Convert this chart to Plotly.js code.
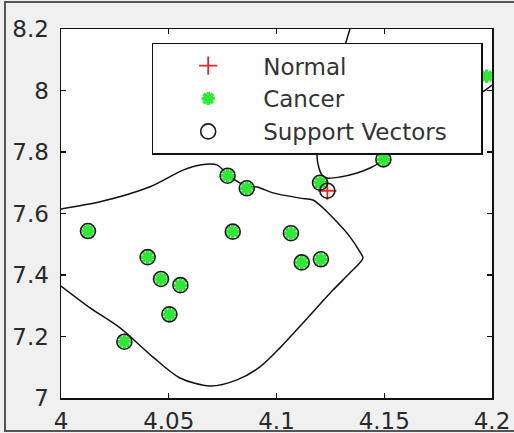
<!DOCTYPE html>
<html>
<head>
<meta charset="utf-8">
<script src="https://cdn.plot.ly/plotly-3.0.1.min.js"></script>
<style>
html,body{margin:0;padding:0;overflow:hidden;background:#f0f0f0;}
#chart{position:absolute;left:0;top:0;width:514px;height:433px;}
#frame{position:absolute;left:4px;top:1px;width:530px;height:427px;border:2px solid #555;pointer-events:none;}
</style>
</head>
<body>
<div id="chart"></div>
<div id="frame"></div>
<script>
// Cancer samples (green)
var cancerX = [4.0125, 4.0402, 4.0464, 4.0554, 4.0503, 4.0294, 4.0797, 4.1067, 4.1117, 4.1206, 4.0773, 4.0862, 4.1202, 4.1496, 4.1975];
var cancerY = [7.543, 7.458, 7.387, 7.367, 7.272, 7.183, 7.541, 7.536, 7.441, 7.451, 7.723, 7.682, 7.700, 7.776, 8.047];
// Normal samples (red)
var normalX = [4.1236];
var normalY = [7.674];
// Support vectors (circled)
var svX = [4.0125, 4.0402, 4.0464, 4.0554, 4.0503, 4.0294, 4.0797, 4.1067, 4.1117, 4.1206, 4.0773, 4.0862, 4.1202, 4.1496, 4.1236];
var svY = [7.543, 7.458, 7.387, 7.367, 7.272, 7.183, 7.541, 7.536, 7.441, 7.451, 7.723, 7.682, 7.700, 7.776, 7.674];
// Decision boundary: closed region on the left
var boundary1X = [4.0, 4.0181, 4.0413, 4.0566, 4.0645, 4.0724, 4.0775, 4.0863, 4.0910, 4.0984, 4.1109, 4.1169, 4.1216, 4.1281, 4.1341, 4.1387, 4.1401,
                  4.1341, 4.1262, 4.1123, 4.1016, 4.0923, 4.0817, 4.0691, 4.0552, 4.0427, 4.0274, 4.0135, 4.0];
var boundary1Y = [7.615, 7.638, 7.687, 7.741, 7.758, 7.758, 7.725, 7.689, 7.686, 7.667, 7.650, 7.644, 7.618, 7.572, 7.524, 7.475, 7.455,
                  7.407, 7.351, 7.244, 7.163, 7.101, 7.059, 7.039, 7.065, 7.133, 7.228, 7.293, 7.364];
// Decision boundary: upper right region
var boundary2X = [4.1341, 4.1323, 4.1188, 4.1211, 4.1239, 4.1295, 4.1374, 4.1434, 4.1494, 4.1619, 4.1805, 4.1954, 4.2];
var boundary2Y = [8.2, 8.158, 7.790, 7.725, 7.715, 7.719, 7.732, 7.748, 7.774, 7.872, 7.953, 7.995, 8.018];
// Axis ticks
var xTickVals = [4, 4.05, 4.1, 4.15, 4.2];
var xTickText = ['4', '4.05', '4.1', '4.15', '4.2'];
var yTickVals = [7, 7.2, 7.4, 7.6, 7.8, 8, 8.2];
var yTickText = ['7', '7.2', '7.4', '7.6', '7.8', '8', '8.2'];
var legendNames = ['Normal', 'Cancer', 'Support Vectors\u00a0\u00a0\u00a0\u00a0'];

var FONT = 'DejaVu Sans, sans-serif';
var traces = [
  {x: boundary1X, y: boundary1Y, mode: 'lines', line: {color: '#111', width: 1.5, shape: 'spline', smoothing: 0.8}, showlegend: false, hoverinfo: 'skip'},
  {x: boundary2X, y: boundary2Y, mode: 'lines', line: {color: '#111', width: 1.5, shape: 'spline', smoothing: 0.8}, showlegend: false, hoverinfo: 'skip'},
  {x: normalX, y: normalY, mode: 'markers', name: legendNames[0],
   marker: {symbol: 'cross-thin-open', size: 13, color: '#e8262a', line: {color: '#e8262a', width: 1.8}}},
  {x: cancerX, y: cancerY, mode: 'markers', name: legendNames[1],
   marker: {symbol: 'asterisk-open', size: 11, color: '#2ee835', line: {color: '#2ee835', width: 3.5}}},
  {x: svX, y: svY, mode: 'markers', name: legendNames[2],
   marker: {symbol: 'circle-open', size: 15, color: '#1a1a1a', line: {color: '#1a1a1a', width: 1.6}}}
];

var axisCommon = {
  showgrid: false, zeroline: false, showline: true, linecolor: '#111', linewidth: 1.5, mirror: 'ticks',
  ticks: 'inside', ticklen: 5, tickwidth: 1.2, tickcolor: '#111',
  tickfont: {family: FONT, size: 23, color: '#2a2a2a'}
};

var layout = {
  width: 514, height: 433,
  margin: {l: 61, r: 22, t: 29, b: 35, pad: 0},
  paper_bgcolor: '#f0f0f0', plot_bgcolor: '#ffffff',
  font: {family: FONT, color: '#333'},
  xaxis: Object.assign({}, axisCommon, {range: [4, 4.2], tickmode: 'array', tickvals: xTickVals, ticktext: xTickText, ticklabelstandoff: 2}),
  yaxis: Object.assign({}, axisCommon, {range: [7, 8.2], tickmode: 'array', tickvals: yTickVals, ticktext: yTickText, ticklabelstandoff: 6}),
  legend: {x: 0.2104, y: 0.963, xanchor: 'left', yanchor: 'top', bgcolor: '#ffffff', bordercolor: '#111', borderwidth: 1.5,
           font: {family: FONT, size: 23, color: '#333'}, itemwidth: 100, tracegroupgap: 0},
  showlegend: true
};

Plotly.newPlot('chart', traces, layout, {displayModeBar: false, staticPlot: true});
</script>
</body>
</html>
